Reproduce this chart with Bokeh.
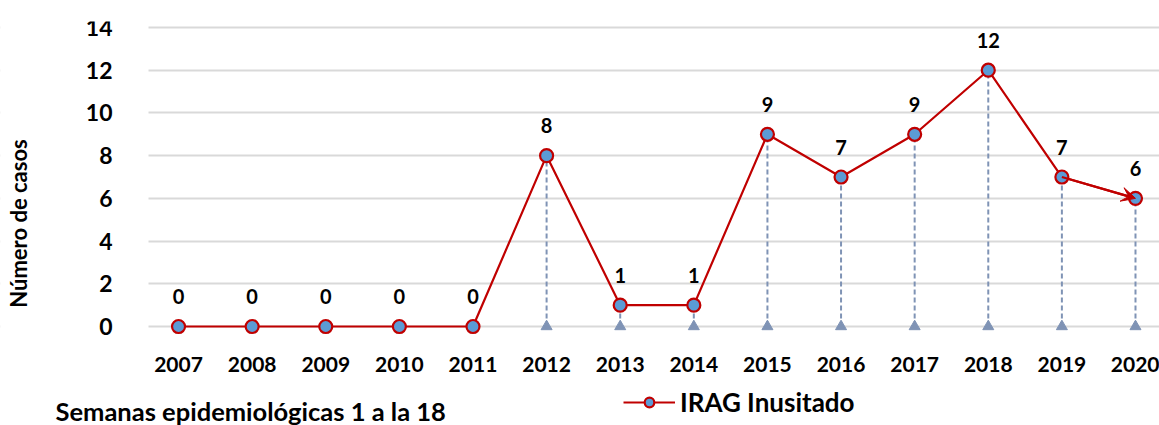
from bokeh.plotting import figure
from bokeh.models import (Range1d, FixedTicker, Label, Legend, LegendItem, Arrow,
                          VeeHead, ColumnDataSource, BoxAnnotation)
from bokeh.core.properties import value
from bokeh.embed import file_html
from bokeh.resources import INLINE

years = [2007, 2008, 2009, 2010, 2011, 2012, 2013, 2014, 2015, 2016, 2017, 2018, 2019, 2020]
cases = [0, 0, 0, 0, 0, 8, 1, 1, 9, 7, 9, 12, 7, 6]
y_ticks = [0, 2, 4, 6, 8, 10, 12, 14]
series_name = "IRAG Inusitado"
y_title = "Número de casos"
x_note = "Semanas epidemiológicas 1 a la 18"

FONT = "Lato"
RED = "#C00000"
BLUE = "#5B9BD5"
DROP = "#7F93B5"

# layout: plot area starts 148px from the left edge; one year = 73.6px
PX_YEAR = 73.6
PX_UNIT = 21.36
X0 = years[0] - 178 / PX_YEAR
X1 = years[-1] + 24 / PX_YEAR
Y0 = -99 / PX_UNIT
Y1 = y_ticks[-1] + 6 / PX_UNIT
AXIS_X = years[0] - 30 / PX_YEAR

src = ColumnDataSource(dict(x=years, y=cases, zero=[0] * len(years),
                            lbl=[str(v) for v in cases]))

p = figure(width=1159, height=425, output_backend="svg", toolbar_location=None,
           x_range=Range1d(X0, X1), y_range=Range1d(Y0, Y1),
           min_border_left=0, min_border_right=0, min_border_top=21, min_border_bottom=0)
p.outline_line_color = None
p.background_fill_color = "white"

p.xgrid.grid_line_color = None
p.ygrid.grid_line_color = "#D9D9D9"
p.ygrid.grid_line_width = 2
# keep gridlines to the right of the value axis
p.add_layout(BoxAnnotation(left=0, right=148, left_units="screen", right_units="screen",
                           fill_color="white", fill_alpha=1, line_color=None,
                           level="underlay"))

# axes
p.xaxis.ticker = FixedTicker(ticks=years)
p.xaxis.fixed_location = 0
p.yaxis.ticker = FixedTicker(ticks=y_ticks)
p.yaxis.fixed_location = AXIS_X
for ax in (p.xaxis[0], p.yaxis[0]):
    ax.axis_line_color = None
    ax.major_tick_line_color = None
    ax.minor_tick_line_color = None
    ax.major_label_text_font = FONT
    ax.major_label_text_font_style = "bold"
    ax.major_label_text_color = "black"
p.xaxis.major_label_text_font_size = "21px"
p.xaxis.major_label_standoff = 24
p.yaxis.major_label_text_font_size = "23px"
p.yaxis.major_label_standoff = 30
p.yaxis.axis_label = y_title
p.yaxis.axis_label_text_font = FONT
p.yaxis.axis_label_text_font_style = "bold"
p.yaxis.axis_label_text_font_size = "22px"
p.yaxis.axis_label_text_color = "black"
p.yaxis.axis_label_standoff = 51

# drop lines
p.segment(x0="x", y0="zero", x1="x", y1="y", source=src, line_color=DROP,
          line_width=2, line_dash="5 3")
p.scatter(x="x", y="zero", source=src, marker="triangle", size=11,
          fill_color=DROP, line_color=DROP)

# main line
line_r = p.line(x="x", y="y", source=src, line_color=RED, line_width=2.2)
p.add_layout(Arrow(x_start=years[-2], y_start=cases[-2], x_end=years[-1], y_end=cases[-1],
                   line_color=RED, line_width=2.2,
                   end=VeeHead(size=14, line_color=RED, fill_color=RED, line_width=1)))
pts_r = p.scatter(x="x", y="y", source=src, marker="circle", size=13,
                  fill_color=BLUE, line_color=RED, line_width=2.2)

# data labels
p.text(x="x", y="y", text="lbl", source=src, text_align="center",
       text_baseline="middle", y_offset=-30, text_font=value(FONT),
       text_font_style="bold", text_font_size="20px", text_color="black")

legend = Legend(items=[LegendItem(label=series_name, renderers=[line_r, pts_r])],
                location=(623, 7), padding=0, margin=0, glyph_width=52, glyph_height=24,
                label_standoff=5, label_text_font=FONT,
                label_text_font_style="bold", label_text_color="black",
                label_text_font_size="26px", border_line_color=None,
                background_fill_alpha=0)
p.add_layout(legend, "center")

p.add_layout(Label(x=55, y=15, x_units="screen", y_units="screen", text=x_note,
                   text_font=FONT, text_font_style="bold", text_font_size="25.5px",
                   text_baseline="middle", text_color="black"))

open("out.html", "w").write(file_html(p, INLINE))
